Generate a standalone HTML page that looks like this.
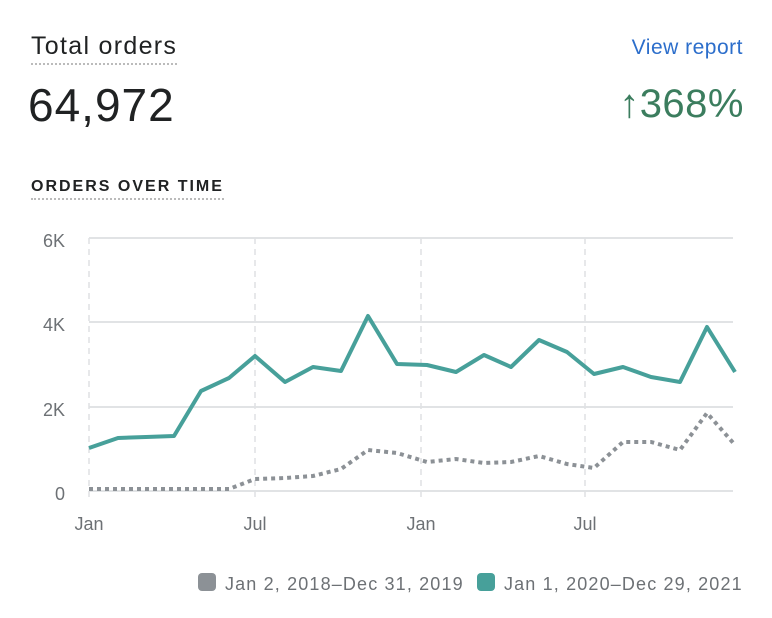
<!DOCTYPE html>
<html><head><style>
body{margin:0;width:772px;height:618px;background:#fff;font-family:"Liberation Sans",sans-serif;position:relative;overflow:hidden}
.a{position:absolute}
</style></head><body>
<div class="a" style="left:31px;top:32px;font-size:25px;color:#202223;letter-spacing:1.3px;border-bottom:2px dotted #bbb;padding-bottom:2px">Total orders</div>
<div class="a" style="right:29px;top:36px;font-size:21px;color:#2c6ecb;letter-spacing:0.5px">View report</div>
<div class="a" style="left:28px;top:78px;font-size:46px;color:#202223;letter-spacing:1px">64,972</div>
<div class="a" style="right:28px;top:82px;font-size:40px;color:#3b7d5e;letter-spacing:0.5px">↑368%</div>
<div class="a" style="left:31px;top:178px;font-size:16px;font-weight:bold;color:#202223;letter-spacing:2px;border-bottom:2px dotted #bbb;padding-bottom:2px">ORDERS OVER TIME</div>
<svg class="a" style="left:0;top:0" width="772" height="618">
<g stroke="#e1e3e5" stroke-width="2">
<line x1="89" x2="733" y1="238" y2="238"/><line x1="89" x2="733" y1="322" y2="322"/><line x1="89" x2="733" y1="407" y2="407"/><line x1="89" x2="733" y1="491" y2="491"/>
</g>
<g stroke="#dfe1e4" stroke-width="1.5" stroke-dasharray="6,5">
<line x1="89" x2="89" y1="238" y2="498"/><line x1="255" x2="255" y1="238" y2="498"/><line x1="421" x2="421" y1="238" y2="498"/><line x1="585" x2="585" y1="238" y2="498"/>
</g>
<g font-size="18" fill="#6d7175" text-anchor="end">
<text x="65" y="247">6K</text><text x="65" y="331">4K</text><text x="65" y="416">2K</text><text x="65" y="500">0</text>
</g>
<g font-size="18" fill="#6d7175" text-anchor="middle">
<text x="89" y="530">Jan</text><text x="255" y="530">Jul</text><text x="421" y="530">Jan</text><text x="585" y="530">Jul</text>
</g>
<polyline fill="none" stroke="#8c9196" stroke-width="4" stroke-dasharray="4,4" points="89,489 158,489 229,489 255,479 285,478 313,476 341,469 368,450 397,453 427,462 456,459 484,463 511,462 539,456 567,464 594,468 623,442 651,442 680,450 707,413 735,445"/>
<polyline fill="none" stroke="#47a09a" stroke-width="4" stroke-linejoin="round" points="89,448 118,438 146,437 174,436 201,391 229,378 255,356 285,382 313,367 341,371 368,316 397,364 427,365 456,372 484,355 511,367 539,340 567,352 594,374 623,367 651,377 680,382 707,327 735,372"/>
<rect x="198" y="573" width="18" height="18" rx="4" fill="#8c9196"/>
<text x="225" y="590" font-size="18" fill="#6d7175" letter-spacing="1.15">Jan 2, 2018–Dec 31, 2019</text>
<rect x="477" y="573" width="18" height="18" rx="4" fill="#47a09a"/>
<text x="504" y="590" font-size="18" fill="#6d7175" letter-spacing="1.15">Jan 1, 2020–Dec 29, 2021</text>
</svg>
</body></html>
